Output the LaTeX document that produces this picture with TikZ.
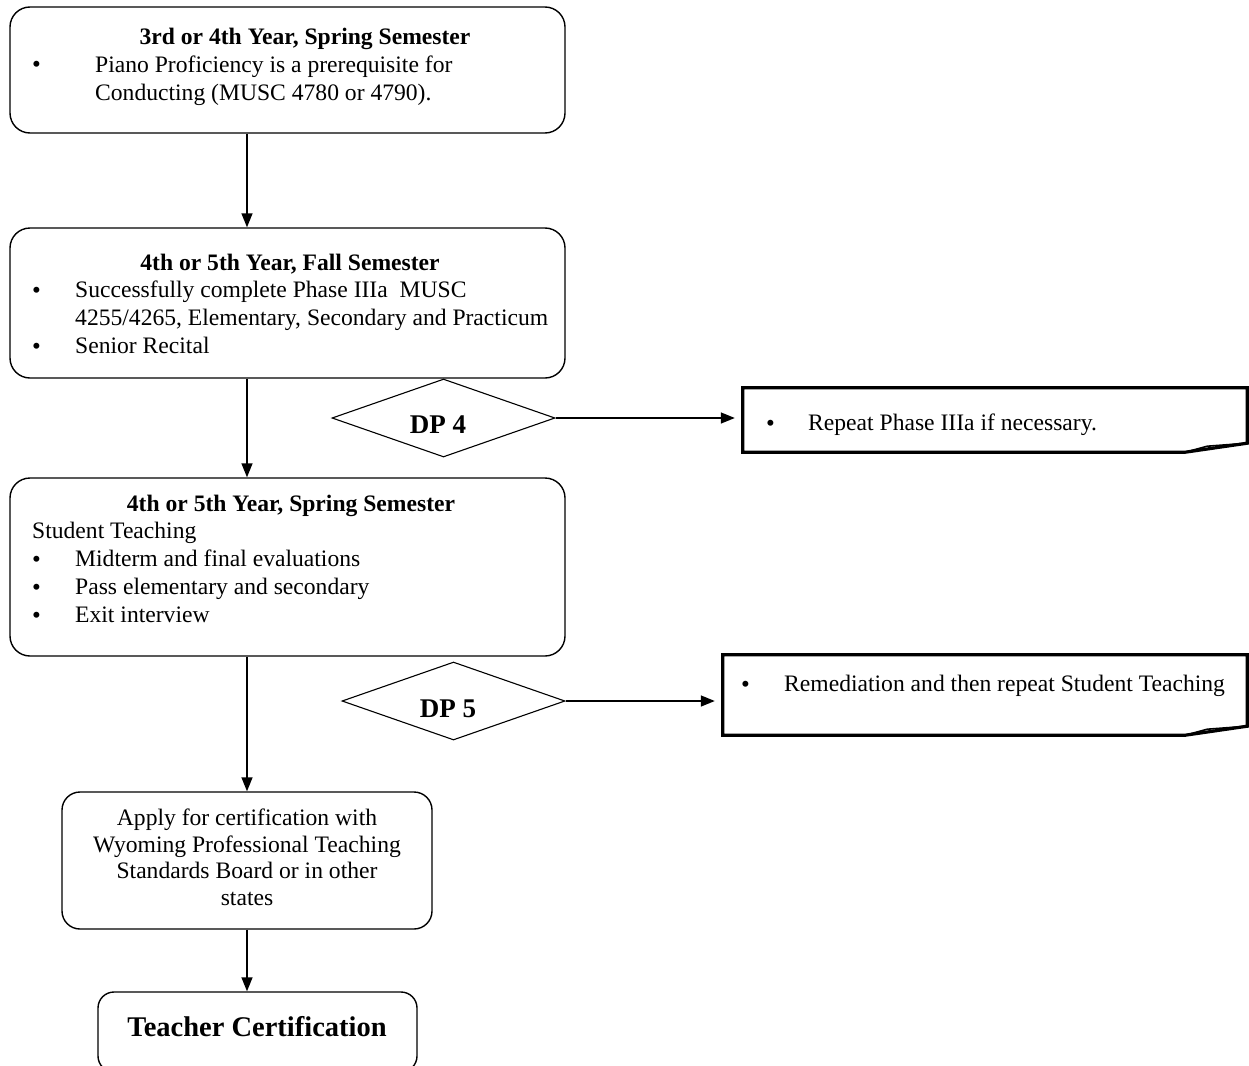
\documentclass[tikz,border=0pt]{standalone}
\usepackage{fontspec}
\setmainfont{Liberation Serif}
\usetikzlibrary{arrows.meta,shapes.geometric}
\begin{document}
\begin{tikzpicture}[x=1pt,y=-1pt,
  stage/.style={draw,line width=1.4pt,rounded corners=20pt,inner sep=0pt},
  dec/.style={draw,diamond,line width=1.1pt,inner sep=0pt,aspect=2.8},
  declabel/.style={anchor=base,inner sep=0pt,font=\fontsize{27}{30}\selectfont\bfseries},
  hold/.style={inner sep=0pt},
  notebox/.style={line width=3.2pt,line join=miter},
  txt/.style={anchor=base west,inner sep=0pt,font=\fontsize{23.6}{28}\selectfont},
  bul/.style={anchor=base west,inner sep=0pt,font=\fontsize{25}{28}\selectfont},
  ttl/.style={anchor=base,inner sep=0pt,font=\fontsize{23.6}{28}\selectfont\bfseries},
  ctr/.style={anchor=base,inner sep=0pt,font=\fontsize{23.6}{28}\selectfont},
  arr/.style={line width=1.4pt,-{Triangle[length=14pt,width=11pt]}}]
\useasboundingbox (0,0) rectangle (1249,1065);
% stages
\node[stage,minimum width=555pt,minimum height=126pt] (b1) at (287.5,70) {};
\node[stage,minimum width=555pt,minimum height=150pt] (b2) at (287.5,303) {};
\node[stage,minimum width=555pt,minimum height=178pt] (b3) at (287.5,567) {};
\node[stage,minimum width=370pt,minimum height=137pt,rounded corners=18pt] (b4) at (247,860.5) {};
\node[stage,minimum width=319pt,minimum height=80pt,rounded corners=16pt] (b5) at (257.5,1032) {};
% decisions
\node[dec,minimum width=223pt,minimum height=78pt] (d4) at (443.5,418) {};
\node[dec,minimum width=223pt,minimum height=78pt] (d5) at (453.5,701) {};
\node[declabel] (t4) at (438,433) {DP 4};
\node[declabel] (t5) at (448,717) {DP 5};
% notes
\node[hold,minimum width=504pt,minimum height=64pt] (n1) at (995,420) {};
\node[hold,minimum width=524pt,minimum height=80pt] (n2) at (985,695) {};
\draw[notebox] (n1.north west) -- (n1.north east) -- ([yshift=9pt]n1.south east) -- ([xshift=-62pt]n1.south east) -- (n1.south west) -- cycle;
\draw[line width=1.6pt] ([xshift=-62pt]n1.south east) -- ([xshift=-40pt,yshift=6pt]n1.south east) -- ([yshift=9pt]n1.south east);
\draw[notebox] (n2.north west) -- (n2.north east) -- ([yshift=9pt]n2.south east) -- ([xshift=-62pt]n2.south east) -- (n2.south west) -- cycle;
\draw[line width=1.6pt] ([xshift=-62pt]n2.south east) -- ([xshift=-40pt,yshift=6pt]n2.south east) -- ([yshift=9pt]n2.south east);
% texts box 1
\node[ttl] (h1) at (305,45) {3rd or 4th Year, Spring Semester};
\node[bul] (p1a) at (32,73) {•};
\node[txt] (p1b) at (95,72) {Piano Proficiency is a prerequisite for};
\node[txt] (p1c) at (95,100) {Conducting (MUSC 4780 or 4790).};
% box 2
\node[ttl] (h2) at (290,270) {4th or 5th Year, Fall Semester};
\node[bul] (p2a) at (32,298) {•};
\node[txt] (p2b) at (75,297) {Successfully complete Phase IIIa\ \ MUSC};
\node[txt] (p2c) at (75,325) {4255/4265, Elementary, Secondary and Practicum};
\node[bul] (p2d) at (32,354) {•};
\node[txt] (p2e) at (75,353) {Senior Recital};
% box 3
\node[ttl] (h3) at (291,511) {4th or 5th Year, Spring Semester};
\node[txt] (p3a) at (32,538) {Student Teaching};
\node[bul] (p3b) at (32,567) {•};
\node[txt] (p3c) at (75,566) {Midterm and final evaluations};
\node[bul] (p3d) at (32,595) {•};
\node[txt] (p3e) at (75,594) {Pass elementary and secondary};
\node[bul] (p3f) at (32,623) {•};
\node[txt] (p3g) at (75,622) {Exit interview};
% box 4
\node[ctr] (p4a) at (247,825) {Apply for certification with};
\node[ctr] (p4b) at (247,852) {Wyoming Professional Teaching};
\node[ctr] (p4c) at (247,878) {Standards Board or in other};
\node[ctr] (p4d) at (247,905) {states};
% box 5
\node[anchor=base,inner sep=0pt,font=\fontsize{28.5}{30}\selectfont\bfseries] (p5) at (257,1036) {Teacher Certification};
% note texts
\node[bul] (q1a) at (766,431) {•};
\node[txt] (q1b) at (808,430) {Repeat Phase IIIa if necessary.};
\node[bul] (q2a) at (741,692) {•};
\node[txt] (q2b) at (784,691) {Remediation and then repeat Student Teaching};
% connectors
\draw[arr] (b1.south -| b4) -- (b2.north -| b4);
\draw[arr] (b2.south -| b4) -- (b3.north -| b4);
\draw[arr] (b3.south -| b4) -- (b4.north);
\draw[arr] (b4.south) -- (b5.north -| b4);
\draw[arr,shorten >=8pt] (d4.east) -- (n1.west |- d4.east);
\draw[arr,shorten >=8pt] (d5.east) -- (n2.west |- d5.east);
\end{tikzpicture}
\end{document}
